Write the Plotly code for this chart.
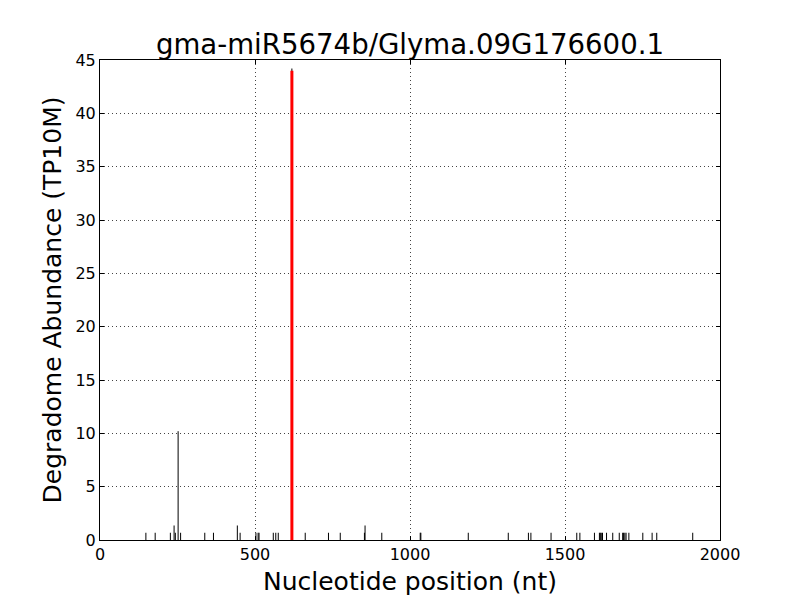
import plotly.graph_objects as go

title = "gma-miR5674b/Glyma.09G176600.1"
positions = [148, 178, 227, 239, 243, 252, 260, 338, 366, 443, 452, 503, 510, 513,
             559, 567, 575, 619, 662, 737, 775, 853, 855, 909, 1033, 1035, 1188, 1317,
             1382, 1390, 1455, 1538, 1548, 1595, 1611, 1614, 1617, 1621, 1634, 1654,
             1675, 1686, 1689, 1693, 1697, 1706, 1751, 1781, 1796, 1912]
abundance = [0.68, 0.68, 0.68, 1.36, 0.68, 10.2, 0.68, 0.68, 0.68, 1.36, 0.68, 0.68, 0.68, 0.68,
             0.68, 0.68, 0.68, 44.2, 0.68, 0.68, 0.68, 0.68, 1.36, 0.68, 0.68, 0.68, 0.68, 0.68,
             0.68, 0.68, 0.68, 0.68, 0.68, 0.68, 0.68, 0.68, 0.68, 0.68, 0.68, 0.68,
             0.68, 0.68, 0.68, 0.68, 0.68, 0.68, 0.68, 0.68, 0.68, 0.68]
site_position = [619]
site_abundance = [44.0]

def segments(xs, ys):
    sx, sy = [], []
    for x, y in zip(xs, ys):
        sx += [x, x, None]
        sy += [0, y, None]
    return sx, sy

bx, by = segments(positions, abundance)
rx, ry = segments(site_position, site_abundance)

fig = go.Figure()
fig.add_trace(go.Scatter(x=bx, y=by, mode="lines", line=dict(color="black", width=1),
                         showlegend=False, hoverinfo="skip"))
fig.add_trace(go.Scatter(x=rx, y=ry, mode="lines", line=dict(color="red", width=3),
                         showlegend=False, hoverinfo="skip"))

axis_common = dict(showline=True, linecolor="black", linewidth=1, mirror="ticks",
                   ticks="inside", ticklen=4, tickcolor="black",
                   showgrid=True, gridcolor="#444", griddash="1px,3px", gridwidth=1,
                   zeroline=False, tickfont=dict(family="DejaVu Sans", size=16, color="black"))

fig.update_layout(
    width=800, height=600,
    paper_bgcolor="white", plot_bgcolor="white",
    margin=dict(l=92, r=88, t=52, b=68),
    title=dict(text=title, x=0.5025, xanchor="center", y=0.94, yanchor="middle",
               font=dict(family="DejaVu Sans", size=27.6, color="black")),
    xaxis=dict(range=[0, 2000], dtick=500,
               title=dict(text="Nucleotide position (nt)", standoff=9,
                          font=dict(family="DejaVu Sans", size=25, color="black")),
               **axis_common),
    yaxis=dict(range=[0, 45], dtick=5,
               title=dict(text="Degradome Abundance (TP10M)", standoff=6,
                          font=dict(family="DejaVu Sans", size=25, color="black")),
               **axis_common),
)

fig.write_html("out.html")
